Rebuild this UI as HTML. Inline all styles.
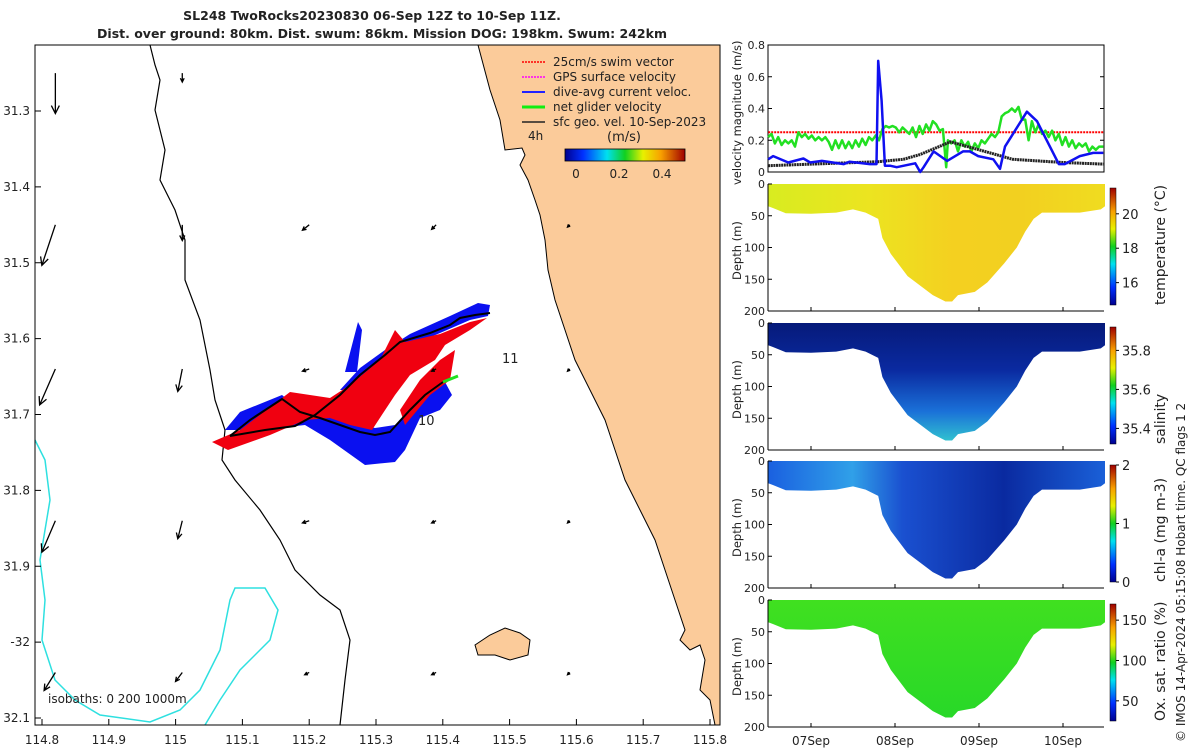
<!DOCTYPE html>
<html><head><meta charset="utf-8">
<style>
body{margin:0;background:#fff;width:1200px;height:750px;overflow:hidden;font-family:"Liberation Sans","DejaVu Sans",sans-serif;}
svg text{font-family:"DejaVu Sans","Liberation Sans",sans-serif;fill:#222;}
</style></head>
<body>
<svg id="fig" width="1200" height="750" viewBox="0 0 1200 750" xmlns="http://www.w3.org/2000/svg">
<defs>
<linearGradient id="jet" x1="0" x2="1" y1="0" y2="0">
<stop offset="0" stop-color="#00008f"/><stop offset="0.15" stop-color="#0030ff"/><stop offset="0.35" stop-color="#00e0f0"/><stop offset="0.5" stop-color="#10d020"/><stop offset="0.65" stop-color="#e8f000"/><stop offset="0.8" stop-color="#f8a000"/><stop offset="1" stop-color="#a00000"/>
</linearGradient>
<linearGradient id="jetv" x1="0" x2="0" y1="1" y2="0">
<stop offset="0" stop-color="#00008f"/><stop offset="0.15" stop-color="#0030ff"/><stop offset="0.35" stop-color="#00e0f0"/><stop offset="0.5" stop-color="#10d020"/><stop offset="0.65" stop-color="#e8f000"/><stop offset="0.8" stop-color="#f8a000"/><stop offset="1" stop-color="#a00000"/>
</linearGradient>
<linearGradient id="gTemp" x1="0" x2="1"><stop offset="0" stop-color="#d8ec20"/><stop offset="0.3" stop-color="#ece420"/><stop offset="0.55" stop-color="#f4d020"/><stop offset="0.75" stop-color="#f2d020"/><stop offset="1" stop-color="#f0dc20"/></linearGradient>
<linearGradient id="gSal" x1="0" x2="0" y1="0" y2="1"><stop offset="0" stop-color="#061a7a"/><stop offset="0.4" stop-color="#0a2aa0"/><stop offset="0.75" stop-color="#1a70d8"/><stop offset="1" stop-color="#30c0d0"/></linearGradient>
<linearGradient id="gChl" x1="0" x2="1"><stop offset="0" stop-color="#1a60e0"/><stop offset="0.25" stop-color="#30a0e8"/><stop offset="0.4" stop-color="#1a50d0"/><stop offset="0.7" stop-color="#0a2aa0"/><stop offset="1" stop-color="#1a60d8"/></linearGradient>
<linearGradient id="gOx" x1="0" x2="0" y1="0" y2="1"><stop offset="0" stop-color="#40e020"/><stop offset="1" stop-color="#28d828"/></linearGradient>
</defs>

<text x="372" y="20" font-size="12.5" font-weight="bold" text-anchor="middle">SL248 TwoRocks20230830 06-Sep 12Z to 10-Sep 11Z.</text>
<text x="382" y="38" font-size="12.5" font-weight="bold" text-anchor="middle">Dist. over ground: 80km. Dist. swum: 86km. Mission DOG: 198km. Swum: 242km</text>

<g id="map">
<rect x="35" y="45" width="685" height="680" fill="#fff"/>
<path fill="#fbcb9a" stroke="#000" stroke-width="1" d="M478,45 L482,60 L490,90 L500,120 L505,150 L522,148 L525,155 L520,165 L528,180 L535,200 L540,215 L545,240 L548,270 L555,300 L565,330 L575,360 L590,390 L605,420 L615,450 L625,480 L640,510 L655,540 L665,570 L675,600 L685,630 L680,640 L690,650 L700,645 L705,660 L700,690 L710,700 L715,725 L720,725 L720,45 Z"/>
<path fill="#fbcb9a" stroke="#000" stroke-width="1" d="M475,645 L490,635 L505,628 L520,633 L530,640 L528,655 L510,660 L495,655 L478,655 Z"/>
<polyline fill="none" stroke="#000" stroke-width="1.2" points="150,45 155,65 160,80 155,110 165,150 160,180 175,210 185,240 185,280 200,320 210,370 215,400 225,430 222,460 235,480 260,510 280,540 295,570 320,595 340,610 350,640 345,680 340,725"/>
<polyline fill="none" stroke="#2ee0e0" stroke-width="1.5" points="35,440 45,460 50,500 45,530 40,560 45,600 42,640 55,680 75,700 100,715 150,722 180,710 200,690 220,650 230,600 235,588 265,588 278,610 270,640 240,670 220,700 205,725"/>
<g id="track">
<path fill="#0a10f0" d="M225,430 L240,412 L282,395 L300,410 L345,420 L375,428 L395,425 L425,392 L445,382 L452,395 L440,410 L420,418 L405,450 L395,462 L365,465 L330,440 L305,425 L260,430 Z M340,390 L360,368 L385,350 L410,334 L450,316 L478,303 L490,305 L488,316 L470,320 L440,333 L405,348 L380,362 L350,390 Z M345,372 L358,322 L362,330 L357,372 Z"/>
<path fill="#f00010" d="M212,442 L240,430 L290,392 L330,398 L350,385 L380,360 L395,330 L405,342 L440,334 L470,322 L487,318 L470,330 L445,345 L435,360 L410,375 L395,395 L372,430 L350,425 L330,418 L305,420 L270,435 L228,450 Z M400,410 L420,380 L440,360 L455,350 L450,380 L430,395 L405,425 Z"/>
<polyline fill="none" stroke="#000" stroke-width="2" points="230,436 250,420 282,399 300,412 320,418 340,425 360,432 375,435 390,432 410,410 425,395 443,382"/>
<polyline fill="none" stroke="#000" stroke-width="2" points="230,436 265,430 295,426 315,415 340,395 360,375 385,355 400,342 430,333 450,325 460,318 475,315 490,313"/>
<line x1="443" y1="382" x2="458" y2="376" stroke="#20e020" stroke-width="3"/>
</g>
<text x="418" y="425" font-size="13">10</text>
<text x="502" y="363" font-size="13">11</text>
<g id="arrows" stroke="#000" fill="none" stroke-width="1.3"></g>
<text x="48" y="703" font-size="12">isobaths: 0   200  1000m</text>
<g font-size="12">
<line x1="522" y1="62" x2="545" y2="62" stroke="#f00" stroke-width="1.5" stroke-dasharray="2 1"/><text x="553" y="66">25cm/s swim vector</text>
<line x1="522" y1="77" x2="545" y2="77" stroke="#f0f" stroke-width="1.5" stroke-dasharray="2 1"/><text x="553" y="81">GPS surface velocity</text>
<line x1="522" y1="92" x2="545" y2="92" stroke="#22f" stroke-width="2"/><text x="553" y="96">dive-avg current veloc.</text>
<line x1="522" y1="107" x2="545" y2="107" stroke="#1e1" stroke-width="3"/><text x="553" y="111">net glider velocity</text>
<line x1="522" y1="122" x2="545" y2="122" stroke="#222" stroke-width="1.5"/><text x="553" y="126">sfc geo. vel. 10-Sep-2023</text>
<text x="528" y="140">4h</text>
<text x="607" y="141" font-size="13">(m/s)</text>
<rect x="565" y="149" width="120" height="12" fill="url(#jet)" stroke="#000" stroke-width="0.8"/>
<text x="576" y="178" text-anchor="middle">0</text><text x="619" y="178" text-anchor="middle">0.2</text><text x="662" y="178" text-anchor="middle">0.4</text>
</g>
<rect x="35" y="45" width="685" height="680" fill="none" stroke="#000" stroke-width="1"/>
<g id="mapTicks" font-size="12"></g>
</g>

<g id="right"></g>
<text transform="translate(1185,742) rotate(-90)" font-size="12">© IMOS 14-Apr-2024 05:15:08 Hobart time. QC flags 1  2</text>
</svg>
<script>
const lonTicks=[114.8,114.9,115,115.1,115.2,115.3,115.4,115.5,115.6,115.7,115.8];
const latTicks=[31.3,31.4,31.5,31.6,31.7,31.8,31.9,32.0,32.1];
const latLabels=["31.3","31.4","31.5","31.6","31.7","31.8","31.9","-32","32.1"];
const arrowLon=[114.82,115.01,115.2,115.39,115.59];
const arrowLat=[31.25,31.45,31.64,31.84,32.04];
const arrowU=[[0,0,0,0,0],[-0.3,0,-0.15,-0.1,-0.05],[-0.35,-0.1,-0.15,-0.1,-0.05],[-0.3,-0.1,-0.15,-0.1,-0.05],[-0.25,-0.15,-0.1,-0.1,-0.05]];
const arrowV=[[0.9,0.2,0,0,0],[0.9,0.35,0.12,0.1,0.05],[0.8,0.5,0.05,0.05,0.05],[0.7,0.4,0.05,0.05,0.05],[0.4,0.2,0.05,0.05,0.05]];
const velTicks=[0,0.2,0.4,0.6,0.8];
const dayTicks=[0,1,2,3];
const dayLabels=["07Sep","08Sep","09Sep","10Sep"];
const blueT=[-0.51,-0.45,-0.27,-0.09,-0.01,0.13,0.39,0.46,0.70,0.78,0.80,0.84,0.88,0.94,1.02,1.24,1.30,1.34,1.46,1.62,1.81,1.89,1.99,2.17,2.25,2.31,2.57,2.69,2.95,3.02,3.20,3.36,3.48];
const blueV=[0.08,0.1,0.06,0.085,0.06,0.07,0.05,0.065,0.05,0.05,0.7,0.45,0.04,0.04,0.03,0.055,0,0.03,0.13,0.07,0.13,0.13,0.1,0.08,0.02,0.16,0.38,0.32,0.05,0.05,0.1,0.12,0.12];
const blackT=[-0.51,0.8,1.1,1.3,1.66,2.2,2.4,3.0,3.48];
const blackV=[0.04,0.065,0.08,0.11,0.19,0.11,0.08,0.06,0.05];
const redT=[-0.51,3.48];
const redV=[0.25,0.25];
const greenT=[-0.51,-0.47,-0.43,-0.39,-0.35,-0.31,-0.27,-0.23,-0.19,-0.15,-0.11,-0.07,-0.03,0.01,0.05,0.09,0.13,0.17,0.21,0.25,0.29,0.33,0.37,0.41,0.45,0.49,0.53,0.57,0.61,0.65,0.69,0.73,0.77,0.81,0.85,0.89,0.93,0.97,1.01,1.05,1.09,1.13,1.17,1.21,1.25,1.29,1.33,1.37,1.41,1.45,1.49,1.53,1.57,1.61,1.63,1.67,1.71,1.75,1.79,1.83,1.87,1.91,1.95,1.99,2.03,2.07,2.11,2.15,2.19,2.23,2.27,2.31,2.35,2.39,2.43,2.47,2.51,2.55,2.59,2.63,2.67,2.71,2.75,2.79,2.83,2.87,2.91,2.95,2.99,3.03,3.07,3.11,3.15,3.19,3.23,3.27,3.31,3.35,3.39,3.43,3.48];
const greenV=[0.22,0.24,0.18,0.22,0.17,0.2,0.18,0.2,0.16,0.25,0.22,0.24,0.21,0.23,0.2,0.22,0.2,0.22,0.19,0.14,0.2,0.15,0.2,0.15,0.19,0.15,0.2,0.16,0.21,0.17,0.22,0.2,0.23,0.2,0.27,0.29,0.28,0.29,0.28,0.25,0.28,0.26,0.24,0.28,0.22,0.29,0.24,0.3,0.26,0.32,0.3,0.26,0.27,0.03,0.2,0.18,0.2,0.13,0.2,0.16,0.19,0.13,0.18,0.15,0.2,0.18,0.21,0.24,0.22,0.25,0.35,0.37,0.38,0.4,0.38,0.41,0.33,0.33,0.2,0.32,0.25,0.3,0.24,0.26,0.22,0.26,0.2,0.24,0.17,0.22,0.16,0.2,0.15,0.18,0.16,0.18,0.13,0.16,0.14,0.16,0.16];
const bottomT=[-0.51,-0.45,-0.3,0.0,0.3,0.5,0.65,0.8,0.85,0.95,1.15,1.3,1.45,1.6,1.68,1.75,1.95,2.1,2.3,2.45,2.55,2.65,2.75,3.0,3.2,3.45,3.5];
const bottomD=[35,38,46,47,45,40,45,55,85,110,145,160,175,185,185,175,170,155,125,100,75,55,45,45,45,40,35];
const depthTicks=[0,50,100,150,200];
const panelNames=["temperature","salinity","chl-a","oxygen"];
const panelLabels=["temperature (°C)","salinity","chl-a (mg m-3)","Ox. sat. ratio (%)"];
const cbTicks=[[16,18,20],[35.4,35.6,35.8],[0,1,2],[50,100,150]];
const cbMin=[14.7,35.32,0,25];
const cbMax=[21.5,35.92,2,170];

const NS="http://www.w3.org/2000/svg";
function mk(tag,attrs,parent){const e=document.createElementNS(NS,tag);for(const k in attrs)e.setAttribute(k,attrs[k]);parent.appendChild(e);return e;}
const lonX=l=>42+(l-114.8)*668;
const latY=l=>111+(l-31.3)*758.75;

const mt=document.getElementById('mapTicks');
lonTicks.forEach(l=>{const x=lonX(l);
 const t=mk('line',{x1:x,y1:725,x2:x,y2:719,stroke:'#000'},mt);
 
 
 const tx=mk('text',{x:x,y:744,'text-anchor':'middle'},mt);tx.textContent=String(l);
 
 
});
latTicks.forEach((l,i)=>{const y=latY(l);
 const t=mk('line',{x1:35,y1:y,x2:41,y2:y,stroke:'#000'},mt);
 
 
 const tx=mk('text',{x:30,y:y+4,'text-anchor':'end'},mt);tx.textContent=latLabels[i];
 
 
});
const ag=document.getElementById('arrows');
arrowLat.forEach((la,i)=>arrowLon.forEach((lo,j)=>{
 const x=lonX(lo),y=latY(la),u=arrowU[i][j]*45,v=arrowV[i][j]*45;
 const L=Math.hypot(u,v)||1;const x2=x+u,y2=y+v;
 const ux=u/L,uy=v/L,h=Math.min(8,2+L*0.2);
 const p=mk('path',{d:`M${x},${y} L${x2},${y2} M${x2-ux*h-uy*h*0.5},${y2-uy*h+ux*h*0.5} L${x2},${y2} L${x2-ux*h+uy*h*0.5},${y2-uy*h-ux*h*0.5}`},ag);
 
 
}));

const R=document.getElementById('right');
const X0=768,X1=1104;
const dayX=d=>811+d*84;
const VT=45,VB=172;
const vY=v=>VB-v/0.8*(VB-VT);
const vp=mk('g',{},R);


mk('rect',{x:X0,y:VT,width:X1-X0,height:VB-VT,fill:'#fff',stroke:'#000'},vp);
velTicks.forEach(v=>{const y=vY(v);
 mk('line',{x1:X0,y1:y,x2:X0+4,y2:y,stroke:'#000'},vp);mk('line',{x1:X1,y1:y,x2:X1-4,y2:y,stroke:'#000'},vp);
 const t=mk('text',{x:X0-3,y:y+4,'text-anchor':'end','font-size':11},vp);t.textContent=String(v);
 
 
});
const vl=mk('text',{transform:`translate(741,185) rotate(-90)`,'font-size':11.5},vp);vl.textContent='velocity magnitude (m/s)';


function series(T,V,color,w,dash,name){
 const pts=T.map((t,i)=>dayX(t).toFixed(1)+','+vY(V[i]).toFixed(1)).join(' ');
 const a={points:pts,fill:'none',stroke:color,'stroke-width':w,'stroke-linejoin':'round'};if(dash)a['stroke-dasharray']=dash;
 const p=mk('polyline',a,vp);
 
 
}
series(redT,redV,'#f00',2,'2 1','swim-speed-line');
series(greenT,greenV,'#22e022',2.5,null,'net-glider-velocity-line');
series(blackT,blackV,'#222',3,'2 0.6','geostrophic-velocity-line');
series(blueT,blueV,'#1010f0',2.5,null,'dive-avg-current-line');

const pTop=[184,323,461,600];
const fills=['url(#gTemp)','url(#gSal)','url(#gChl)','url(#gOx)'];
pTop.forEach((top,k)=>{
 const bot=top+127;const dY=d=>top+d/200*127;
 const g=mk('g',{},R);
 
 
 let d=`M${dayX(bottomT[0])},${dY(0)} `;
 bottomT.forEach((t,i)=>{d+=`L${dayX(t).toFixed(1)},${dY(bottomD[i]).toFixed(1)} `;});
 d+=`L${dayX(bottomT[bottomT.length-1])},${dY(0)} Z`;
 const sh=mk('path',{d:d,fill:fills[k]},g);
 
 
 mk('line',{x1:X0,y1:bot,x2:X1,y2:bot,stroke:'#000'},g);
 mk('line',{x1:X0,y1:top,x2:X0,y2:bot,stroke:'#000'},g);
 depthTicks.forEach(v=>{const y=dY(v);
  mk('line',{x1:X0,y1:y,x2:X0+4,y2:y,stroke:'#000'},g);
  const t=mk('text',{x:X0-3,y:y+4,'text-anchor':'end','font-size':11},g);t.textContent=String(v);
  
  
 });
 dayTicks.forEach(dd=>{mk('line',{x1:dayX(dd),y1:bot,x2:dayX(dd),y2:bot-4,stroke:'#000'},g);});
 const yl=mk('text',{transform:`translate(741,${top+96}) rotate(-90)`,'font-size':11.5},g);yl.textContent='Depth (m)';
 
 
 const cb=mk('rect',{x:1110,y:top+4,width:6,height:117,fill:'url(#jetv)',stroke:'#000','stroke-width':0.5},g);
 
 
 cbTicks[k].forEach(v=>{const y=top+121-(v-cbMin[k])/(cbMax[k]-cbMin[k])*117;
  mk('line',{x1:1116,y1:y,x2:1119,y2:y,stroke:'#000'},g);
  const t=mk('text',{x:1122,y:y+5,'font-size':13},g);t.textContent=String(v);
  
  
 });
 const cl=mk('text',{transform:`translate(1165,${top+121}) rotate(-90)`,'font-size':14},g);cl.textContent=panelLabels[k];
 
 
});
dayTicks.forEach((dd,i)=>{const t=mk('text',{x:dayX(dd),y:745,'text-anchor':'middle','font-size':12},R);t.textContent=dayLabels[i];
 
 
});
</script>
</body></html>
